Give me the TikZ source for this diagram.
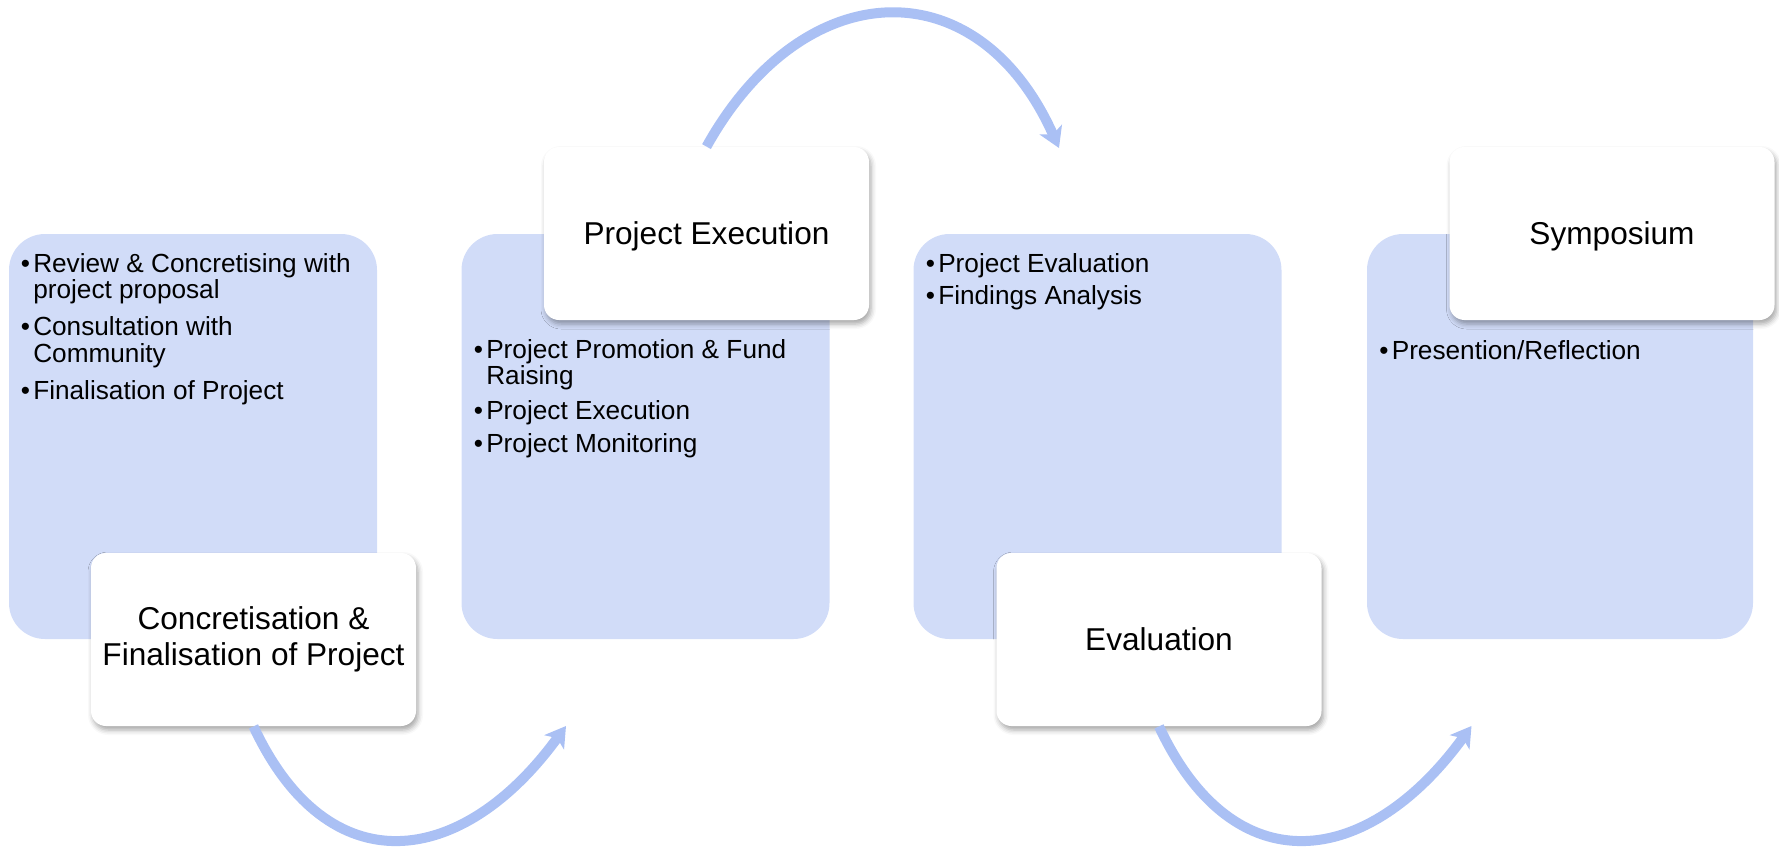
\documentclass[tikz,border=0pt]{standalone}
\usepackage{fontspec}
\setmainfont{Liberation Sans}
\usetikzlibrary{arrows.meta,shadows.blur}
\definecolor{phasefill}{RGB}{209,220,248}
\definecolor{phasearrow}{RGB}{170,192,244}
\newcommand{\itemfont}{\fontsize{13.1}{13}\selectfont}
\begin{document}
\begin{tikzpicture}[x=0.5pt,y=-0.5pt,
	phase/.style={fill=phasefill, rounded corners=18pt, inner sep=0pt, minimum width=184pt, minimum height=202.5pt},
	stage/.style={fill=white, rounded corners=7.5pt, inner sep=0pt, minimum width=162.5pt, minimum height=86.5pt, align=center,
		font=\fontsize{15.8}{18}\selectfont,
		blur shadow={shadow xshift=1pt, shadow yshift=-2pt, shadow blur radius=2.5pt, shadow opacity=35}},
	points/.style={anchor=base west, inner sep=0pt, font=\itemfont},
	flow/.style={draw=phasearrow, line width=5pt, -{Stealth[length=10pt,width=12pt,inset=2.5pt]}}]
	\useasboundingbox (0,0) rectangle (1779,851);
	\node[phase] (p1) at (193,436.5) {};
	\node[phase] (p2) at (645.5,436.5) {};
	\node[phase] (p3) at (1097.5,436.5) {};
	\node[phase, minimum width=193pt] (p4) at (1560,436.5) {};
	\node[points] (t1) at (20.5,272) {\begin{tabular}[t]{@{}l@{\hspace{1.6pt}}l@{}}
			•&Review \& Concretising with\\ &project proposal\\[5pt]
			•&Consultation with\\ &Community\\[5pt]
			•&Finalisation of Project\end{tabular}};
	\node[points] (t2) at (473.5,358) {\begin{tabular}[t]{@{}l@{\hspace{1.6pt}}l@{}}
			•&Project Promotion \& Fund\\ &Raising\\[4pt]
			•&Project Execution\\[3pt]
			•&Project Monitoring\end{tabular}};
	\node[points] (t3) at (925.5,272) {\begin{tabular}[t]{@{}l@{\hspace{1.6pt}}l@{}}
			•&Project Evaluation\\[3pt]
			•&Findings Analysis\end{tabular}};
	\node[points] (t4) at (1379,359) {\begin{tabular}[t]{@{}l@{\hspace{1.6pt}}l@{}}
			•&Presention/Reflection\end{tabular}};
	\node[stage] (s1) at (253.5,639.5) {Concretisation \&\\Finalisation of Project};
	\node[stage, text depth=0pt] (s2) at (706.5,233.5) {Project Execution};
	\node[stage] (s3) at (1159,639.5) {Evaluation};
	\node[stage, text depth=0pt] (s4) at (1612,233.5) {Symposium};
	\coordinate (a1end) at (566,726);
	\coordinate (a2end) at (1059,148);
	\coordinate (a3end) at (1471.5,726);
	\draw[flow] (s1.south) .. controls (328,886) and (462,869) .. (a1end);
	\draw[flow] (s2.north) .. controls (803,-27) and (978,-34) .. (a2end);
	\draw[flow] (s3.south) .. controls (1233.5,886) and (1367.5,869) .. (a3end);
\end{tikzpicture}
\end{document}
